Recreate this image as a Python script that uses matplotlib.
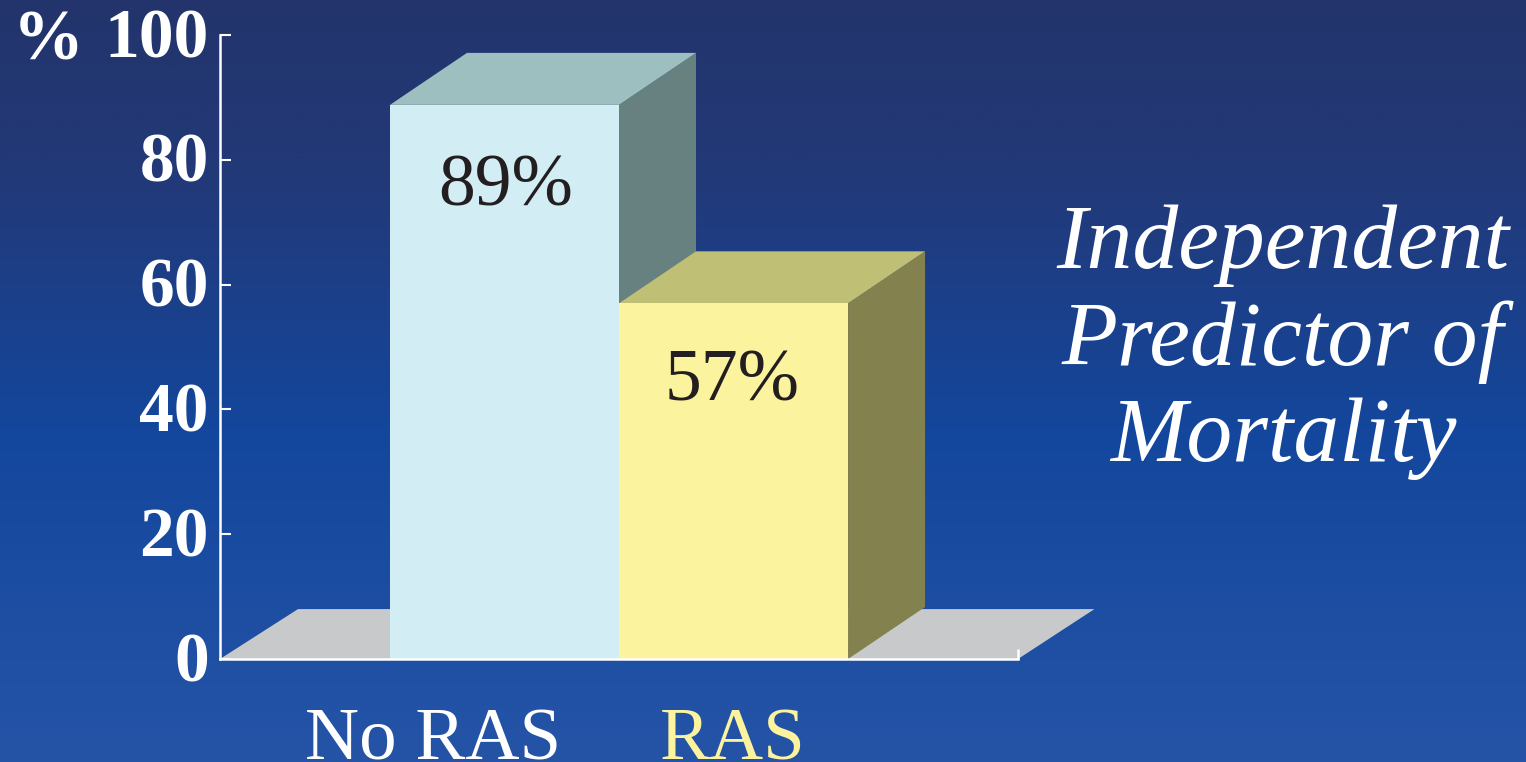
import numpy as np
import matplotlib
matplotlib.use("Agg")
import matplotlib.pyplot as plt
from matplotlib.colors import LinearSegmentedColormap
from matplotlib.patches import Polygon
from matplotlib.transforms import ScaledTranslation

categories = ["No RAS", "RAS"]
values = [88.8, 57]
labels = ["89%", "57%"]
yticks = [0, 20, 40, 60, 80, 100]
front_colors = ["#d3edf4", "#fbf39d"]
top_colors = ["#9dbfc0", "#bfbf75"]
side_colors = ["#678080", "#83814d"]
cat_colors = ["white", "#fbf39d"]
side_note = "Independent\nPredictor of\nMortality"

W, H = 1526, 762
fig = plt.figure(figsize=(W / 100, H / 100), dpi=100)
plt.rcParams["font.family"] = ["Liberation Serif", "DejaVu Serif"]

bg = fig.add_axes([0, 0, 1, 1], zorder=0)
cmap = LinearSegmentedColormap.from_list(
    "bg", [(0, "#22346b"), (0.25, "#223a7a"), (0.57, "#13479d"), (1, "#2554a7")])
bg.imshow(np.linspace(0, 1, 512).reshape(-1, 1), aspect="auto", cmap=cmap, extent=[0, 1, 0, 1])
bg.axis("off")

left, right, top, bottom = 220, 1018, 35, 659
ax = fig.add_axes([left / W, 1 - bottom / H, (right - left) / W, (bottom - top) / H], zorder=1)
ax.patch.set_alpha(0)
ax.set_xlim(-1.242, 2.242)
ax.set_ylim(0, 100)

dx, dy = 77 / 229, 52 / 6.24
fdx, fdy = 78 / 229, 8.0
x0, x1 = ax.get_xlim()
ax.add_patch(Polygon([(x0, 0), (x0 + fdx, fdy), (x1 + fdx * 0.98, fdy), (x1, 0)],
                     closed=True, fc="#c8c9cb", ec="none", zorder=1, clip_on=False))

xs = np.arange(len(values))
for i in range(len(values)):
    x, v = xs[i], values[i]
    l, r = x - 0.5, x + 0.5
    ax.add_patch(Polygon([(r, 0), (r + dx, dy), (r + dx, v + dy), (r, v)], closed=True,
                         fc=side_colors[i], ec="none", zorder=2 + i, clip_on=False))
    ax.add_patch(Polygon([(l, v), (l + dx, v + dy), (r + dx, v + dy), (r, v)], closed=True,
                         fc=top_colors[i], ec="none", zorder=2 + i, clip_on=False))
ax.bar(xs, values, width=1.0, color=front_colors, zorder=5, linewidth=0)

label_drop = [13.3, 12.8]
label_shift = [0.005, -0.005]
for x, v, s, d, sh in zip(xs, values, labels, label_drop, label_shift):
    ax.text(x + sh, v - d, s, ha="center", va="center", fontsize=53, color="#231f20", zorder=6)

for s in ("top", "right"):
    ax.spines[s].set_visible(False)
for s in ("left", "bottom"):
    ax.spines[s].set_color("white")
    ax.spines[s].set_linewidth(1.8)
    ax.spines[s].set_zorder(7)
ax.set_yticks(yticks)
ax.set_yticklabels([str(t) for t in yticks], fontsize=50, fontweight="bold", color="white")
ax.tick_params(axis="y", direction="in", length=8, width=1.5, color="white", pad=8)
ax.set_xticks([-0.313, 0.998])
ax.set_xticklabels(categories, fontsize=54, color="white")
for lab, c in zip(ax.get_xticklabels(), cat_colors):
    lab.set_color(c)
ax.tick_params(axis="x", length=0, pad=35)
ax.plot([1, 1], [0, 10 / 624], transform=ax.transAxes, color="white", lw=1.8,
        clip_on=False, zorder=7, solid_capstyle="butt")

down = ScaledTranslation(0, -5 / 100, fig.dpi_scale_trans)
for lab in ax.get_yticklabels():
    lab.set_verticalalignment("center")
    lab.set_transform(lab.get_transform() + down)

fig.text(48 / W, 1 - 42 / H, "%", fontsize=51, fontweight="bold", color="white",
         ha="center", va="center", zorder=3)
fig.text(1283 / W, 1 - 342 / H, side_note, fontsize=66, style="italic", color="white",
         ha="center", va="center", linespacing=1.21, zorder=3)

fig.savefig("out.png", dpi=100)
